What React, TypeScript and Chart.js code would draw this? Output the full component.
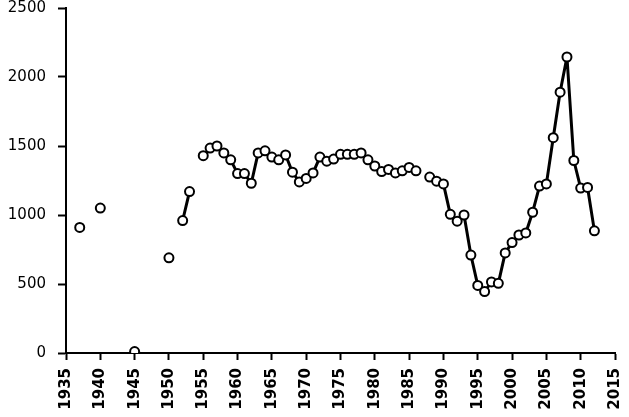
import React, { useEffect, useRef } from "react";
import { Chart, registerables } from "chart.js";

Chart.register(...registerables);

const years: number[] = [];
for (let y = 1937; y <= 2012; y++) years.push(y);

// values by year (null = no data -> gap)
const values: (number | null)[] = [
  910, null, null, 1050, null, null, null, null, 10, null, // 1937-1946
  null, null, null, 690, null, 960, 1170, null, 1430, 1485, // 1947-1956
  1500, 1450, 1400, 1300, 1300, 1230, 1450, 1465, 1420, 1400, // 1957-1966
  1435, 1310, 1240, 1265, 1305, 1420, 1390, 1405, 1440, 1440, // 1967-1976
  1440, 1450, 1400, 1355, 1315, 1330, 1305, 1320, 1345, 1320, // 1977-1986
  null, 1275, 1245, 1225, 1005, 955, 1000, 710, 490, 445, // 1987-1996
  515, 505, 725, 800, 855, 870, 1020, 1210, 1225, 1560, // 1997-2006
  1890, 2145, 1395, 1195, 1200, 885, // 2007-2012
];

const xMin = 1935;
const xMax = 2015;
const yMax = 2500;

export default function App() {
  const ref = useRef<HTMLCanvasElement>(null);
  useEffect(() => {
    if (!ref.current) return;
    const chart = new Chart(ref.current, {
      type: "line",
      data: {
        datasets: [
          {
            data: years.map((y, i) => ({ x: y, y: values[i] })) as any,
            borderColor: "#000",
            borderWidth: 3,
            borderJoinStyle: "round",
            pointRadius: 4.5,
            pointBorderWidth: 2,
            pointBackgroundColor: "#fff",
            pointBorderColor: "#000",
            spanGaps: false,
            tension: 0,
          },
        ],
      },
      options: {
        animation: false,
        responsive: false,
        layout: { padding: { top: 8, right: 14, left: 0, bottom: 0 } },
        plugins: { legend: { display: false }, tooltip: { enabled: false } },
        scales: {
          x: {
            type: "linear",
            min: xMin,
            max: xMax,
            afterFit: (s: any) => {
              s.height = 64;
              s.paddingLeft = 0;
              s.paddingRight = 0;
            },
            ticks: {
              stepSize: 5,
              color: "#000",
              font: { family: "DejaVu Sans", size: 15, weight: "bold" },
              padding: 8,
              maxRotation: 90,
              minRotation: 90,
              callback: (v: any) => String(v),
            },
            grid: { drawOnChartArea: false, color: "#000", tickLength: 7, tickWidth: 2 },
            border: { color: "#000", width: 2 },
          },
          y: {
            min: 0,
            max: yMax,
            afterFit: (s: any) => {
              s.width = 66;
              s.paddingTop = 0;
              s.paddingBottom = 0;
            },
            ticks: {
              stepSize: 500,
              color: "#000",
              font: { family: "DejaVu Sans", size: 15 },
              padding: 12,
              callback: (v: any) => String(v),
            },
            grid: { drawOnChartArea: false, color: "#000", tickLength: 8, tickWidth: 2 },
            border: { color: "#000", width: 2 },
          },
        },
      },
    });
    return () => chart.destroy();
  }, []);
  return (
    <div style={{ position: "absolute", left: 0, top: 0, width: 629, height: 417, background: "#fff" }}>
      <canvas ref={ref} width={629} height={417} />
    </div>
  );
}
